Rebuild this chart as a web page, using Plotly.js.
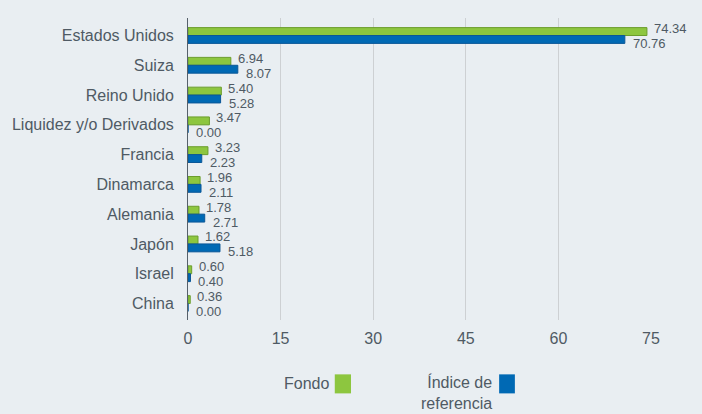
<!DOCTYPE html>
<html>
<head>
<meta charset="utf-8">
<script src="https://cdn.plot.ly/plotly-3.0.1.min.js"></script>
<style>html,body{margin:0;padding:0;background:#e9eef2;}#chart{width:702px;height:414px;}</style>
</head>
<body>
<div id="chart"></div>
<script>
const categories = ["Estados Unidos","Suiza","Reino Unido","Liquidez y/o Derivados","Francia","Dinamarca","Alemania","Japón","Israel","China"];
const fondo = [74.34, 6.94, 5.40, 3.47, 3.23, 1.96, 1.78, 1.62, 0.60, 0.36];
const indice = [70.76, 8.07, 5.28, 0.00, 2.23, 2.11, 2.71, 5.18, 0.40, 0.00];
const seriesNames = ["Fondo", "Índice de<br>referencia"];
const xTicks = [0, 15, 30, 45, 60, 75];

const textColor = "#4f5a64";
const font = "Liberation Sans, Arial, sans-serif";

const traces = [
  {type:"bar", orientation:"h", name:seriesNames[0], y:categories, x:fondo,
   marker:{color:"#8dc63f", line:{color:"#6b9d2c", width:1}}, hoverinfo:"x"},
  {type:"bar", orientation:"h", name:seriesNames[1], y:categories, x:indice,
   marker:{color:"#0069b4", line:{color:"#0b5797", width:1}}, hoverinfo:"x"}
];

const annotations = [];
categories.forEach((c,i)=>{
  annotations.push({x:fondo[i], y:c, xref:"x", yref:"y", text:fondo[i].toFixed(2), showarrow:false,
    xanchor:"left", yanchor:"middle", xshift:5, yshift:7, font:{family:font, size:13, color:textColor}});
  annotations.push({x:indice[i], y:c, xref:"x", yref:"y", text:indice[i].toFixed(2), showarrow:false,
    xanchor:"left", yanchor:"middle", xshift:6, yshift:-8, font:{family:font, size:13, color:textColor}});
});
// custom legend (text left of swatch)
annotations.push({xref:"paper", yref:"paper", x:0.308, y:-0.21, text:seriesNames[0], showarrow:false,
  xanchor:"right", yanchor:"middle", align:"right", font:{family:font, size:16, color:textColor}});
annotations.push({xref:"paper", yref:"paper", x:0.66, y:-0.21, text:seriesNames[1], showarrow:false,
  xanchor:"right", yanchor:"top", align:"right", yshift:12, font:{family:font, size:16, color:textColor}});

const shapes = [
  {type:"rect", xref:"paper", yref:"paper", x0:0.317, x1:0.352, y0:-0.18, y1:-0.243, fillcolor:"#8dc63f", line:{width:0}},
  {type:"rect", xref:"paper", yref:"paper", x0:0.672, x1:0.706, y0:-0.18, y1:-0.243, fillcolor:"#0069b4", line:{width:0}}
];

const layout = {
  width:702, height:414,
  paper_bgcolor:"#e9eef2", plot_bgcolor:"#e9eef2",
  margin:{l:188, r:51, t:18, b:94, pad:0},
  barmode:"group", bargap:0.47, bargroupgap:0,
  showlegend:false,
  font:{family:font, color:textColor},
  xaxis:{range:[0,75], tickvals:xTicks, ticktext:xTicks.map(String), showgrid:true, gridcolor:"#cdd0d3", gridwidth:1,
    zeroline:false, showline:false, ticks:"", tickfont:{size:16, color:textColor}, ticklabelstandoff:7, fixedrange:true},
  yaxis:{type:"category", autorange:"reversed", showgrid:false, zeroline:false, showline:true, linecolor:"#56606a", linewidth:1,
    ticks:"", tickfont:{size:16, color:textColor}, ticklabelstandoff:10, fixedrange:true},
  annotations:annotations, shapes:shapes
};

Plotly.newPlot("chart", traces, layout, {displayModeBar:false, staticPlot:true});
</script>
</body>
</html>
